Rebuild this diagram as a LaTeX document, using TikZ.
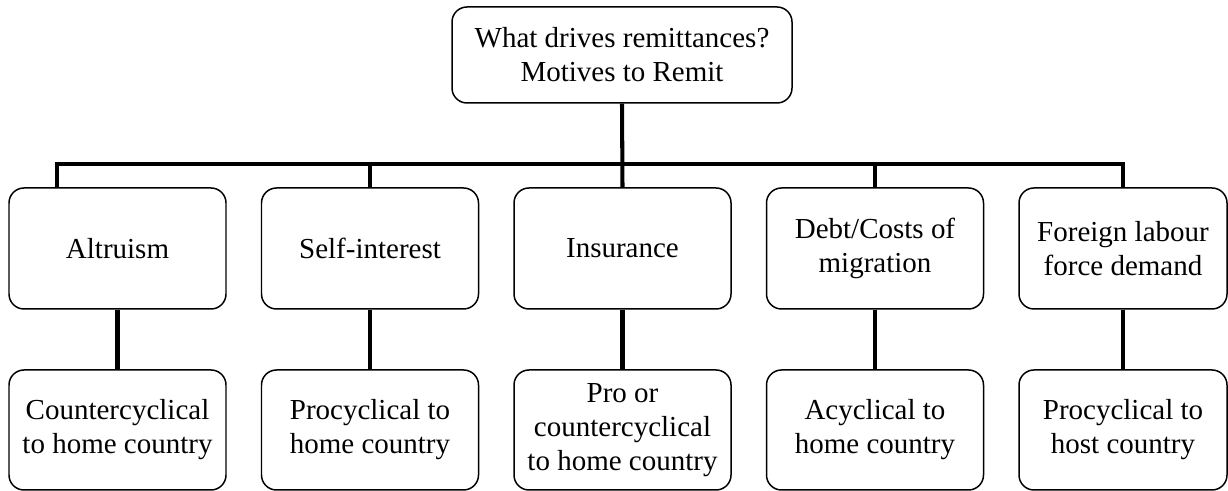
\documentclass[tikz,border=0pt]{standalone}
\usepackage{fontspec}
\setmainfont{Liberation Serif}
\usetikzlibrary{positioning}

\begin{document}
\begin{tikzpicture}[
    motive/.style={draw, line width=0.85pt, rounded corners=0.3cm, align=center,
      minimum width=4.34cm, minimum height=2.42cm, inner sep=2pt,
      font=\fontsize{16.5}{19.4}\selectfont},
    effect/.style={motive, minimum height=2.4cm},
    link/.style={line width=2.3pt}
  ]
    % page frame (keeps the margins of the figure)
    \useasboundingbox (0,0) rectangle (24.56,9.82);

    % Root question
    \node[motive, minimum width=6.8cm, minimum height=1.92cm] (root) at (12.44,8.72)
      {What drives remittances?\\Motives to Remit};

    % Motives to remit (first row)
    \node[motive] (alt)  at (2.35,4.85)  {Altruism};
    \node[motive] (self) at (7.4,4.85)   {Self-interest};
    \node[motive] (ins)  at (12.45,4.85) {Insurance};
    \node[motive] (debt) at (17.5,4.85)  {Debt/Costs of\\migration};
    \node[motive, minimum width=4.16cm] (fl) at (22.46,4.85) {Foreign labour\\force demand};

    % Cyclical behaviour (second row)
    \node[effect] (altE)  at (2.35,1.22)  {Countercyclical\\to home country};
    \node[effect] (selfE) at (7.4,1.22)   {Procyclical to\\home country};
    \node[effect] (insE)  at (12.45,1.22) {Pro or\\countercyclical\\to home country};
    \node[effect] (debtE) at (17.5,1.22)  {Acyclical to\\home country};
    \node[effect, minimum width=4.16cm] (flE) at (22.46,1.22) {Procyclical to\\host country};

    % Bus from the root to the motives
    \coordinate (busL) at (1.14,6.54);
    \draw[link] (alt.north -| busL) -- (busL) -- (busL -| fl.north) -- (fl.north);
    \draw[link] (root.south) -- (ins.north);
    \draw[link] (self.north) -- (self.north |- busL);
    \draw[link] (debt.north) -- (debt.north |- busL);

    % Motive to its behaviour
    \draw[link] (alt) -- (altE);
    \draw[link] (self) -- (selfE);
    \draw[link] (ins) -- (insE);
    \draw[link] (debt) -- (debtE);
    \draw[link] (fl) -- (flE);
  \end{tikzpicture}
\end{document}
